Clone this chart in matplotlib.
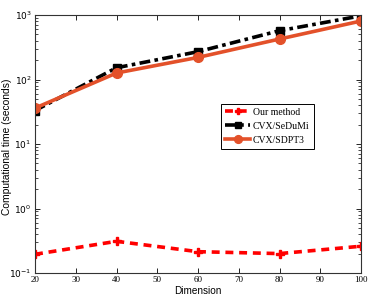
import matplotlib
matplotlib.use("Agg")
import matplotlib.pyplot as plt
from matplotlib.ticker import LogLocator, FixedLocator

dims = [20, 40, 60, 80, 100]
our_method = [0.195, 0.31, 0.214, 0.20, 0.26]
cvx_sedumi = [33, 152, 270, 571, 970]
cvx_sdpt3 = [36, 126, 220, 424, 807]
xticks = [20, 30, 40, 50, 60, 70, 80, 90, 100]

plt.rcParams['mathtext.fontset'] = 'stix'
serif = 'Liberation Serif'
sans = 'Liberation Sans'

fig = plt.figure(figsize=(3.74, 2.98), dpi=100)
ax = fig.add_axes([35/374, 1-273/298, (361-35)/374, (273-15)/298])

ax.plot(dims, our_method, color='#ff0000', linestyle=(0, (2.2, 1.6)), lw=2.6,
        marker='P', markersize=6, label='Our method')
ax.plot(dims, cvx_sedumi, color='black', linestyle=(0, (3, 1.2, 1, 1.2)), lw=2.6,
        marker='s', markersize=6, label='CVX/SeDuMi')
ax.plot(dims, cvx_sdpt3, color='#e3512a', linestyle='-', lw=2.6,
        marker='o', markersize=7, label='CVX/SDPT3')

ax.set_yscale('log')
ax.set_xlim(20, 100)
ax.set_ylim(0.1, 1000)
ax.xaxis.set_major_locator(FixedLocator(xticks))
ax.yaxis.set_major_locator(LogLocator(base=10, numticks=10))
ax.yaxis.set_minor_locator(LogLocator(base=10, subs=range(2, 10), numticks=100))
ax.tick_params(which='both', direction='in', top=True, right=True, labelsize=6.5)
ax.tick_params(which='major', length=3.5, width=0.6, pad=2.5)
ax.tick_params(which='minor', length=2, width=0.5)
for lab in ax.get_xticklabels():
    lab.set_fontfamily(serif)
for s in ax.spines.values():
    s.set_linewidth(0.8)
    s.set_color('#333333')

ax.set_xlabel('Dimension', fontsize=7.2, family=sans, labelpad=1)
ax.set_ylabel('Computational time (seconds)', fontsize=7.4, family=sans)
ax.yaxis.set_label_coords((12.5-35)/326, 0.49)

leg = ax.legend(loc='upper left', bbox_to_anchor=((221-35)/326, 1-(104-15)/258),
                prop={'family': serif, 'size': 7}, fancybox=False, edgecolor='black',
                framealpha=1, handlelength=2.6, borderpad=0.4, labelspacing=0.5,
                handletextpad=0.3, borderaxespad=0, markerscale=0.8)
leg.get_frame().set_linewidth(0.7)

fig.savefig('out.png', dpi=100)
